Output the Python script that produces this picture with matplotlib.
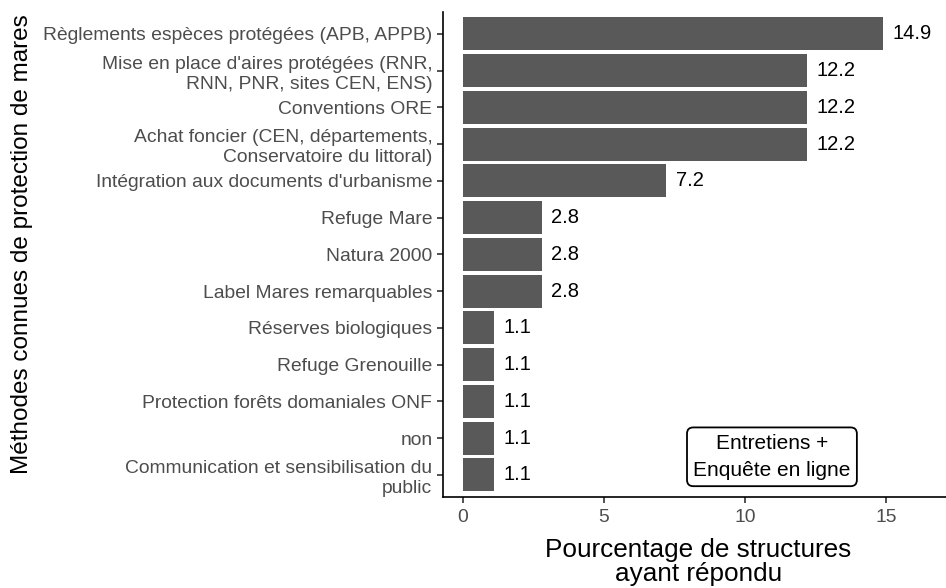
import matplotlib.pyplot as plt

# protection methods known by the responding structures (top to bottom)
methodes = [
    "Règlements espèces protégées (APB, APPB)",
    "Mise en place d'aires protégées (RNR,\nRNN, PNR, sites CEN, ENS)",
    "Conventions ORE",
    "Achat foncier (CEN, départements,\nConservatoire du littoral)",
    "Intégration aux documents d'urbanisme",
    "Refuge Mare",
    "Natura 2000",
    "Label Mares remarquables",
    "Réserves biologiques",
    "Refuge Grenouille",
    "Protection forêts domaniales ONF",
    "non",
    "Communication et sensibilisation du\npublic",
]
pourcentages = [14.9, 12.2, 12.2, 12.2, 7.2, 2.8, 2.8, 2.8, 1.1, 1.1, 1.1, 1.1, 1.1]
x_ticks = [0, 5, 10, 15]

plt.rcParams['font.family'] = ['Liberation Sans', 'DejaVu Sans']

fig = plt.figure(figsize=(9.46, 5.88), dpi=100)
ax = fig.add_axes([0.468, 0.155, 0.532, 0.825])

n = len(methodes)
ypos = list(range(n, 0, -1))
ax.barh(ypos, pourcentages, height=0.9, color='#595959')

for y, v in zip(ypos, pourcentages):
    ax.annotate(f"{v:.1f}", (v, y), xytext=(7, 0), textcoords='offset points',
                va='center', ha='left', fontsize=14.5, color='black')

ax.set_yticks(ypos)
ax.set_yticklabels(methodes, fontsize=13.9, color='#4D4D4D', linespacing=1.25)
ax.set_xticks(x_ticks)
ax.set_xticklabels([str(t) for t in x_ticks], fontsize=13.9, color='#4D4D4D')
ax.set_xlim(-0.71, 17.13)
ax.set_ylim(0.4, 13.6)

for side in ['top', 'right']:
    ax.spines[side].set_visible(False)
for side in ['left', 'bottom']:
    ax.spines[side].set_linewidth(1.2)
ax.tick_params(axis='both', length=4, width=1.2, color='#333333')
ax.tick_params(axis='x', pad=5)

# y title placed at figure level, the long tick labels leave little room
fig.text(22 / 946, 0.585, "Méthodes connues de protection de mares",
         rotation=90, ha='center', va='center', fontsize=17.5)
ax.set_xlabel("Pourcentage de structures\nayant répondu", fontsize=18.8,
              linespacing=1.0)
ax.xaxis.set_label_coords(0.508, -0.085)
ax.xaxis.label.set_va('top')

ax.text(10.96, 1.49, "Entretiens +\nEnquête en ligne", ha='center', va='center',
        fontsize=15, linespacing=1.55,
        bbox=dict(boxstyle='round,pad=0.3,rounding_size=0.3', fc='white',
                  ec='black', lw=1.3))

fig.savefig("out.png", dpi=100)
